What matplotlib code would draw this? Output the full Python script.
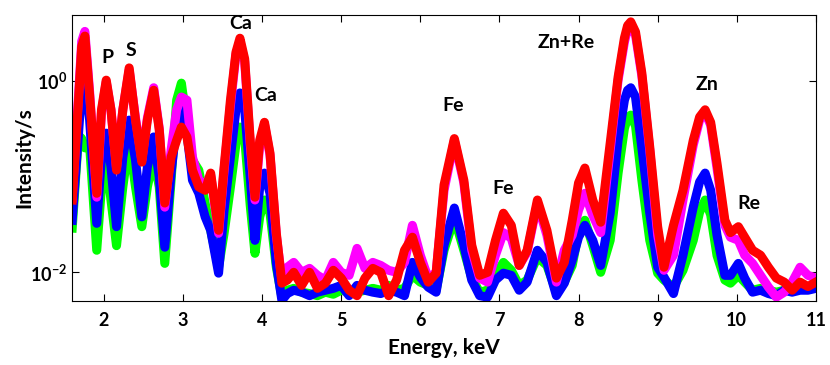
import matplotlib.pyplot as plt
from matplotlib.ticker import FixedLocator, NullLocator

# Energy grid (keV), shared by all four spectra
energy = [1.60, 1.68, 1.72, 1.76, 1.82, 1.91, 1.97, 2.03, 2.09, 2.16, 2.24,
          2.32, 2.40, 2.48, 2.55, 2.63, 2.70, 2.77, 2.85, 2.92, 2.98,
          3.05, 3.12, 3.20, 3.28, 3.35, 3.45, 3.52, 3.60, 3.67, 3.72, 3.78,
          3.85, 3.91, 3.97, 4.03, 4.10, 4.18, 4.25, 4.32, 4.40, 4.50,
          4.60, 4.70, 4.80, 4.90, 5.00, 5.10, 5.20, 5.30, 5.40, 5.50,
          5.60, 5.70, 5.80, 5.90, 6.00, 6.10, 6.20, 6.30, 6.43, 6.55,
          6.65, 6.75, 6.85, 6.95, 7.05, 7.15, 7.25, 7.35, 7.48, 7.60,
          7.72, 7.82, 7.92, 8.00, 8.08, 8.18, 8.28, 8.40, 8.50, 8.58,
          8.62, 8.66, 8.72, 8.80, 8.90, 9.00, 9.08, 9.20, 9.32, 9.45, 9.53,
          9.60, 9.67, 9.75, 9.85, 9.92, 10.02, 10.10, 10.20, 10.30, 10.40,
          10.50, 10.60, 10.70, 10.80, 10.90, 11.00]

# Intensity/s
green = [0.029, 0.27, 0.25, 0.20, 0.21, 0.017, 0.078, 0.156, 0.057, 0.019, 0.078,
         0.24, 0.078, 0.030, 0.078, 0.16, 0.078, 0.0124, 0.092, 0.63, 0.95,
         0.36, 0.149, 0.117, 0.053, 0.0275, 0.0113, 0.0256, 0.078, 0.22, 0.33, 0.25,
         0.050, 0.0158, 0.038, 0.057, 0.0415, 0.0113, 0.0055, 0.0065, 0.0068, 0.0062,
         0.0060, 0.0057, 0.0062, 0.0059, 0.0065, 0.0062, 0.0062, 0.0065, 0.0068, 0.0065,
         0.0073, 0.0065, 0.0068, 0.0093, 0.0079, 0.0073, 0.0065, 0.017, 0.037, 0.017,
         0.0087, 0.0062, 0.0065, 0.0093, 0.0127, 0.0105, 0.0073, 0.0083, 0.0144, 0.0118,
         0.0062, 0.0079, 0.0118, 0.026, 0.035, 0.019, 0.010, 0.0216, 0.109, 0.32,
         0.41, 0.44, 0.34, 0.092, 0.0216, 0.0098, 0.0083, 0.0070, 0.0105, 0.0216, 0.0425,
         0.057, 0.040, 0.015, 0.0083, 0.0077, 0.0093, 0.0079, 0.0065, 0.0068, 0.0065,
         0.0062, 0.0065, 0.0065, 0.0068, 0.0070, 0.0071]

blue = [0.035, 0.285, 0.85, 1.12, 0.39, 0.0325, 0.16, 0.285, 0.126, 0.030, 0.16,
        0.39, 0.149, 0.038, 0.126, 0.26, 0.099, 0.0183, 0.109, 0.36, 0.50,
        0.285, 0.092, 0.067, 0.038, 0.0275, 0.0098, 0.045, 0.16, 0.50, 0.75, 0.50,
        0.10, 0.0216, 0.078, 0.109, 0.067, 0.0124, 0.0051, 0.0060, 0.0065, 0.0062,
        0.0057, 0.0062, 0.0065, 0.0068, 0.0073, 0.0057, 0.0073, 0.0065, 0.0062, 0.0060,
        0.0065, 0.0062, 0.0057, 0.0127, 0.0089, 0.0070, 0.0062, 0.0192, 0.047, 0.0192,
        0.0083, 0.0057, 0.0055, 0.0083, 0.0098, 0.0093, 0.0065, 0.0079, 0.017, 0.0127,
        0.0057, 0.0077, 0.0134, 0.0233, 0.031, 0.0216, 0.0118, 0.0415, 0.24, 0.63,
        0.80, 0.85, 0.68, 0.20, 0.0415, 0.0113, 0.0089, 0.0060, 0.0151, 0.048, 0.088,
        0.109, 0.072, 0.0244, 0.0093, 0.0093, 0.0124, 0.0087, 0.0062, 0.0065, 0.0060,
        0.0057, 0.0065, 0.0062, 0.0065, 0.0065, 0.0068]

magenta = [0.060, 0.71, 2.6, 3.3, 0.77, 0.061, 0.47, 0.98, 0.50, 0.123, 0.50,
           1.30, 0.41, 0.149, 0.41, 0.85, 0.32, 0.048, 0.19, 0.50, 0.68,
           0.63, 0.16, 0.092, 0.082, 0.104, 0.0256, 0.117, 0.56, 1.9, 2.6, 1.6,
           0.22, 0.057, 0.214, 0.355, 0.168, 0.0244, 0.0083, 0.0113, 0.0127, 0.0100,
           0.0110, 0.0093, 0.0083, 0.0127, 0.0100, 0.0093, 0.0178, 0.0110, 0.0127, 0.0118,
           0.0105, 0.0100, 0.0127, 0.031, 0.0151, 0.0087, 0.0100, 0.072, 0.24, 0.086,
           0.017, 0.0087, 0.0079, 0.0151, 0.026, 0.0227, 0.0118, 0.0162, 0.053, 0.0244,
           0.0079, 0.017, 0.0244, 0.0446, 0.067, 0.0395, 0.026, 0.19, 1.02, 2.56,
           3.5, 3.77, 3.03, 1.13, 0.19, 0.0244, 0.0105, 0.0151, 0.057, 0.214, 0.39,
           0.47, 0.346, 0.123, 0.031, 0.0233, 0.0216, 0.0151, 0.0124, 0.0093, 0.0070,
           0.0055, 0.0062, 0.0079, 0.0113, 0.0093, 0.0087]

red = [0.057, 0.63, 2.3, 2.95, 0.71, 0.067, 0.50, 1.02, 0.50, 0.117, 0.50,
       1.37, 0.39, 0.142, 0.39, 0.80, 0.31, 0.053, 0.16, 0.24, 0.33,
       0.26, 0.117, 0.078, 0.072, 0.109, 0.0275, 0.126, 0.63, 2.0, 2.8, 1.7,
       0.24, 0.061, 0.24, 0.37, 0.176, 0.0256, 0.0077, 0.0083, 0.0100, 0.0073,
       0.0100, 0.0068, 0.0077, 0.0105, 0.0087, 0.0065, 0.0057, 0.0087, 0.0110, 0.0100,
       0.0057, 0.0083, 0.017, 0.0233, 0.0127, 0.0079, 0.0098, 0.082, 0.25, 0.092,
       0.0192, 0.0093, 0.0100, 0.0216, 0.0415, 0.031, 0.0118, 0.017, 0.057, 0.0275,
       0.0087, 0.0127, 0.035, 0.086, 0.123, 0.057, 0.0334, 0.224, 1.10, 2.82,
       3.8, 4.15, 3.26, 1.21, 0.204, 0.030, 0.0113, 0.031, 0.072, 0.24, 0.42,
       0.50, 0.37, 0.138, 0.035, 0.026, 0.030, 0.0233, 0.017, 0.0151, 0.0113,
       0.0087, 0.0079, 0.0065, 0.0079, 0.0071, 0.0079]

for s in (green, blue, magenta, red):
    assert len(s) == len(energy)

# Peak labels
labels = ["P", "S", "Ca", "Ca", "Fe", "Fe", "Zn+Re", "Zn", "Re"]
label_x = [2.05, 2.34, 3.73, 4.05, 6.42, 7.05, 7.85, 9.62, 10.15]
label_y = [1.78, 2.06, 3.95, 0.70, 0.55, 0.076, 2.5, 0.91, 0.052]

plt.rcParams["font.family"] = ["Lato", "DejaVu Sans"]
plt.rcParams["font.weight"] = "bold"

fig = plt.figure(figsize=(8.3, 3.65), dpi=100)
ax = fig.add_axes([0.087, 0.175, 0.896, 0.784])

ax.plot(energy, green, color="#00ff00", lw=6.5, solid_joinstyle="round")
ax.plot(energy, blue, color="#0000ff", lw=6.5, solid_joinstyle="round")
ax.plot(energy, magenta, color="#ff00ff", lw=6.5, solid_joinstyle="round")
ax.plot(energy, red, color="#ff0000", lw=6.5, solid_joinstyle="round")

for t, x, y in zip(labels, label_x, label_y):
    ax.text(x, y, t, ha="center", va="center", fontsize=14, fontweight="bold")

ax.set_yscale("log")
ax.set_xlim(1.6, 11.0)
ax.set_ylim(0.005, 4.9)

ax.set_xticks(range(2, 12))
ax.yaxis.set_major_locator(FixedLocator([1e-2, 1e0]))
ax.yaxis.set_minor_locator(NullLocator())
ax.tick_params(direction="in", top=True, right=True, length=5, labelsize=13)
ax.tick_params(axis="x", pad=8)
for lab in ax.get_xticklabels() + ax.get_yticklabels():
    lab.set_fontweight("bold")

ax.set_xlabel("Energy, keV", fontsize=15, fontweight="bold", labelpad=6)
ax.set_ylabel("Intensity/s", fontsize=15, fontweight="bold", labelpad=-3)

fig.savefig("out.png", dpi=100)
